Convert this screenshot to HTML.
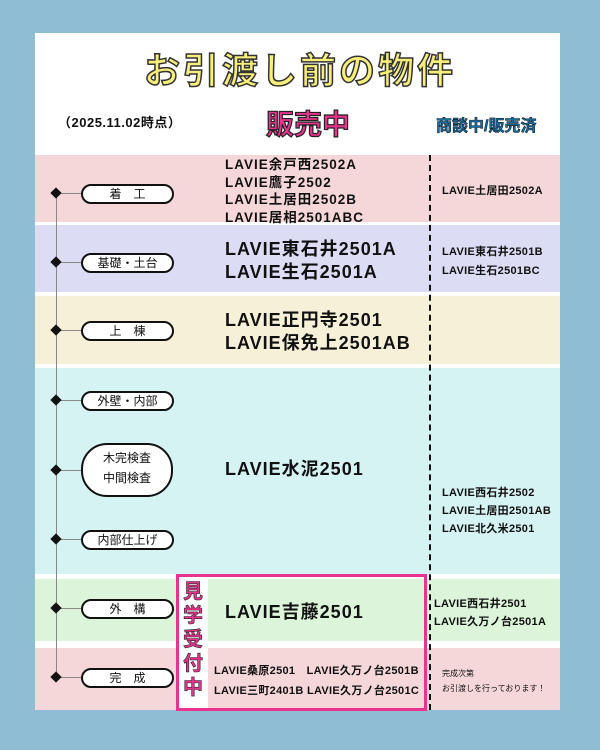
<!DOCTYPE html>
<html><head><meta charset="utf-8"><style>
body{margin:0;width:600px;height:750px;background:#8fbdd3;position:relative;overflow:hidden;font-family:"Liberation Sans","Noto Sans CJK JP",sans-serif;font-weight:bold;color:#111}
.a{position:absolute}
.band{position:absolute;left:35px;width:525px}
.pill{position:absolute;left:81px;width:89px;height:16px;border:2px solid #111;border-radius:10px;background:#fff;font-size:12px;text-align:center;line-height:16px;font-weight:normal}
.dia{position:absolute;left:52px;width:8px;height:8px;background:#111;transform:rotate(45deg)}
.tick{position:absolute;left:57px;width:24px;height:1px;background:#888}
.t{position:absolute;white-space:nowrap}
</style></head><body>
<div class="a" style="left:35px;top:33px;width:525px;height:677px;background:#fff"></div>
<div class="t" style="left:0;width:600px;top:42px;text-align:center;font-size:36px;color:#f7ef7a;-webkit-text-stroke:1.5px #333;letter-spacing:3px">お引渡し前の物件</div>
<div class="t" style="left:58px;top:112px;font-size:13px;letter-spacing:0.5px">（2025.11.02時点）</div>
<div class="t" style="left:266px;top:103px;font-size:28px;color:#e8338f;-webkit-text-stroke:1.2px #222">販売中</div>
<div class="t" style="left:436px;top:112px;font-size:16px;color:#1a6ea0;-webkit-text-stroke:0.6px #123">商談中/販売済</div>

<div class="band" style="top:155px;height:67px;background:#f5d7d9"></div>
<div class="band" style="top:225px;height:67px;background:#dcdcf5"></div>
<div class="band" style="top:296px;height:68px;background:#f6f0d8"></div>
<div class="band" style="top:368px;height:206px;background:#d6f3f3"></div>
<div class="band" style="top:579px;height:62px;background:#dcf4da"></div>
<div class="band" style="top:648px;height:62px;background:#f5d7d9"></div>

<div class="a" style="left:56px;top:190px;width:1px;height:490px;background:#888"></div>
<div class="a" style="left:429px;top:155px;height:555px;border-left:2.5px dashed #111"></div>

<div class="tick" style="top:193px"></div><div class="dia" style="top:189px"></div><div class="pill" style="top:184px">着　工</div>
<div class="tick" style="top:262px"></div><div class="dia" style="top:258px"></div><div class="pill" style="top:253px">基礎・土台</div>
<div class="tick" style="top:330px"></div><div class="dia" style="top:326px"></div><div class="pill" style="top:321px">上　棟</div>
<div class="tick" style="top:400px"></div><div class="dia" style="top:396px"></div><div class="pill" style="top:391px">外壁・内部</div>
<div class="tick" style="top:470px"></div><div class="dia" style="top:466px"></div><div class="pill" style="top:443px;border-radius:26px;line-height:20px;padding-top:3px;box-sizing:border-box;height:54px;width:92px">木完検査<br>中間検査</div>
<div class="tick" style="top:539px"></div><div class="dia" style="top:535px"></div><div class="pill" style="top:530px">内部仕上げ</div>
<div class="tick" style="top:608px"></div><div class="dia" style="top:604px"></div><div class="pill" style="top:599px">外　構</div>
<div class="tick" style="top:677px"></div><div class="dia" style="top:673px"></div><div class="pill" style="top:668px">完　成</div>

<div class="t" style="left:225px;top:156px;font-size:13.5px;line-height:17.5px;letter-spacing:1px">LAVIE余戸西2502A<br>LAVIE鷹子2502<br>LAVIE土居田2502B<br>LAVIE居相2501ABC</div>
<div class="t" style="left:225px;top:238px;font-size:18px;line-height:23px;letter-spacing:1px">LAVIE東石井2501A<br>LAVIE生石2501A</div>
<div class="t" style="left:225px;top:309px;font-size:18px;line-height:23px;letter-spacing:1px">LAVIE正円寺2501<br>LAVIE保免上2501AB</div>
<div class="t" style="left:225px;top:455px;font-size:18px;letter-spacing:1px">LAVIE水泥2501</div>
<div class="t" style="left:225px;top:598px;font-size:18px;letter-spacing:1px">LAVIE吉藤2501</div>
<div class="t" style="left:214px;top:661px;font-size:11px;line-height:20px;letter-spacing:0.3px">LAVIE桑原2501　LAVIE久万ノ台2501B<br>LAVIE三町2401B LAVIE久万ノ台2501C</div>

<div class="a" style="left:176px;top:574px;width:245px;height:131px;border:3px solid #e8338f"></div>
<div class="a" style="left:179px;top:577px;width:29px;height:131px;background:#fff"></div>
<div class="t" style="left:183px;top:580px;font-size:20px;line-height:24px;color:#e8338f;-webkit-text-stroke:0.6px #222">見<br>学<br>受<br>付<br>中</div>

<div class="t" style="left:442px;top:182px;font-size:11px;letter-spacing:0.3px">LAVIE土居田2502A</div>
<div class="t" style="left:442px;top:243px;font-size:11px;line-height:19px;letter-spacing:0.3px">LAVIE東石井2501B<br>LAVIE生石2501BC</div>
<div class="t" style="left:442px;top:484px;font-size:11px;line-height:18px;letter-spacing:0.3px">LAVIE西石井2502<br>LAVIE土居田2501AB<br>LAVIE北久米2501</div>
<div class="t" style="left:434px;top:595px;font-size:11px;line-height:18px;letter-spacing:0.3px">LAVIE西石井2501<br>LAVIE久万ノ台2501A</div>
<div class="t" style="left:442px;top:666px;font-size:8px;line-height:15px;font-weight:normal">完成次第<br>お引渡しを行っております！</div>
</body></html>
